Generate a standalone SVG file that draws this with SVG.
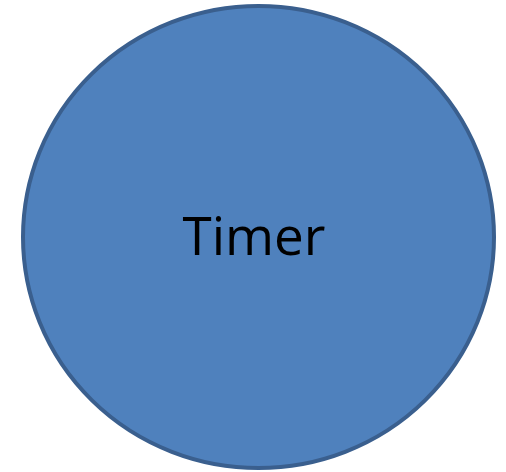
<svg xmlns="http://www.w3.org/2000/svg" width="506" height="472" viewBox="0 0 506 472">
<style>
.node{fill:#4F81BD;stroke:#3A5F8E;stroke-width:4}
.label{font-family:"Open Sans","Liberation Sans",Arial,sans-serif;font-size:53px;fill:#000}
</style>
<rect width="506" height="472" fill="#FFFFFF"/>
<g id="timer">
<ellipse class="node" cx="258.5" cy="237" rx="235.5" ry="231"/>
<text class="label" x="254" y="255" text-anchor="middle">Timer</text>
</g>
<g id="connectors"/>
</svg>
